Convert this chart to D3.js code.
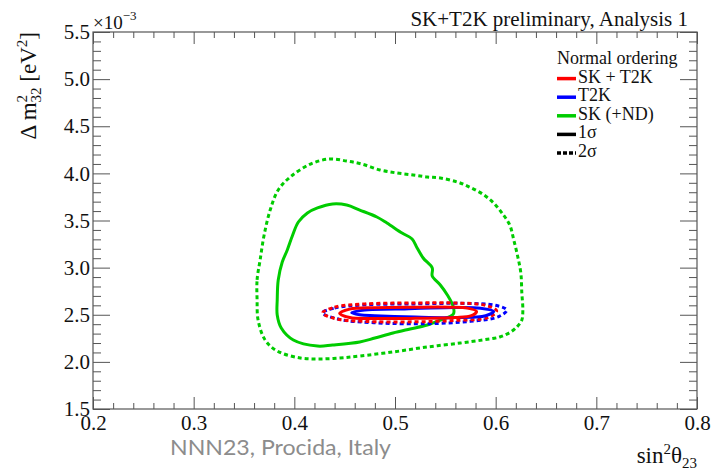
<!DOCTYPE html>
<html>
<head>
<meta charset="utf-8">
<script src="https://cdn.jsdelivr.net/npm/d3@7"></script>
<style>
  body { margin: 0; background: #fff; }
  svg { display: block; }
  .tick line { stroke: #555; }
</style>
</head>
<body>
<div id="chart"></div>
<script>
// tick values / labels
var xTicks = [0.2, 0.3, 0.4, 0.5, 0.6, 0.7, 0.8];
var xTickLabels = ["0.2", "0.3", "0.4", "0.5", "0.6", "0.7", "0.8"];
var yTicks = [1.5, 2.0, 2.5, 3.0, 3.5, 4.0, 4.5, 5.0, 5.5];
var yTickLabels = ["1.5", "2.0", "2.5", "3.0", "3.5", "4.0", "4.5", "5.0", "5.5"];

// contours, [sin^2 theta23, dm2_32 (x1e-3 eV^2)]
var skNd2sigma = [
  [0.363, 2.657], [0.363, 2.869], [0.366, 3.081], [0.370, 3.346], [0.376, 3.611],
  [0.384, 3.824], [0.396, 3.962], [0.416, 4.099], [0.435, 4.153], [0.452, 4.131],
  [0.467, 4.099], [0.485, 4.036], [0.502, 4.004], [0.518, 3.983], [0.532, 3.962],
  [0.545, 3.951], [0.562, 3.908], [0.574, 3.855], [0.587, 3.781], [0.598, 3.686],
  [0.607, 3.569], [0.614, 3.452], [0.618, 3.293], [0.622, 3.113], [0.625, 2.943],
  [0.626, 2.731], [0.627, 2.550], [0.626, 2.444], [0.622, 2.381], [0.615, 2.317],
  [0.604, 2.264], [0.587, 2.232], [0.565, 2.200], [0.532, 2.158], [0.498, 2.105],
  [0.465, 2.062], [0.445, 2.041], [0.425, 2.031], [0.406, 2.041], [0.383, 2.115],
  [0.371, 2.232], [0.364, 2.444]
];
var skNd1sigma = [
  [0.383, 2.657], [0.384, 2.869], [0.388, 3.060], [0.393, 3.187], [0.398, 3.336],
  [0.404, 3.484], [0.413, 3.580], [0.423, 3.633], [0.438, 3.675], [0.452, 3.664],
  [0.465, 3.611], [0.482, 3.537], [0.492, 3.473], [0.507, 3.367], [0.517, 3.304],
  [0.522, 3.208], [0.528, 3.102], [0.537, 2.996], [0.537, 2.911], [0.545, 2.816],
  [0.552, 2.710], [0.558, 2.582], [0.558, 2.508], [0.545, 2.444], [0.532, 2.391],
  [0.515, 2.349], [0.498, 2.306], [0.480, 2.253], [0.465, 2.211], [0.438, 2.179],
  [0.423, 2.168], [0.399, 2.232], [0.387, 2.359], [0.383, 2.497]
];
var t2k2sigma = [
  [0.428, 2.52], [0.44, 2.57], [0.47, 2.605], [0.52, 2.615], [0.57, 2.62],
  [0.60, 2.60], [0.611, 2.55], [0.603, 2.48], [0.575, 2.43], [0.53, 2.405],
  [0.48, 2.415], [0.445, 2.45]
];
var t2k1sigma = [
  [0.457, 2.52], [0.47, 2.55], [0.50, 2.56], [0.55, 2.575], [0.585, 2.57],
  [0.598, 2.535], [0.59, 2.49], [0.56, 2.47], [0.52, 2.475], [0.48, 2.49],
  [0.465, 2.50]
];
var skT2k2sigma = [
  [0.428, 2.52], [0.44, 2.58], [0.47, 2.615], [0.52, 2.625], [0.56, 2.625],
  [0.59, 2.60], [0.601, 2.54], [0.592, 2.47], [0.56, 2.44], [0.52, 2.425],
  [0.47, 2.43], [0.44, 2.46]
];
var skT2k1sigma = [
  [0.445, 2.515], [0.455, 2.56], [0.48, 2.575], [0.52, 2.58], [0.555, 2.58],
  [0.572, 2.57], [0.581, 2.535], [0.576, 2.49], [0.56, 2.47], [0.52, 2.462],
  [0.48, 2.46], [0.455, 2.47]
];

var legendLabels = ["SK + T2K", "T2K", "SK (+ND)", "1\u03c3", "2\u03c3"];

var width = 711, height = 474;
var margin = {top: 32, right: 14, bottom: 65, left: 93};
var serif = "'Liberation Serif', 'DejaVu Serif', serif";
var axisColor = "#555";

var svg = d3.select("#chart").append("svg")
    .attr("width", width)
    .attr("height", height)
    .style("font-family", serif);

svg.append("rect").attr("width", width).attr("height", height).attr("fill", "#fff");

var x = d3.scaleLinear().domain([0.2, 0.8]).range([margin.left, width - margin.right]);
var y = d3.scaleLinear().domain([1.5, 5.5]).range([height - margin.bottom, margin.top]);

var xMinor = d3.range(0, 31).map(function(i) { return 0.2 + i * 0.02; })
  .filter(function(v, i) { return i % 5 !== 0; });
var yMinor = d3.range(0, 41).map(function(i) { return 1.5 + i * 0.1; })
  .filter(function(v, i) { return i % 5 !== 0; });

function fmt(list, labels) {
  return function(d) { return labels[list.indexOf(d)]; };
}

function drawAxis(axis, tx, ty, labelled) {
  var g = svg.append("g")
    .attr("transform", "translate(" + tx + "," + ty + ")")
    .call(axis);
  g.select(".domain").remove();
  g.selectAll(".tick line").attr("stroke", axisColor);
  if (!labelled) g.selectAll(".tick text").remove();
  return g;
}

// bottom
var xb = drawAxis(d3.axisBottom(x).tickValues(xTicks).tickFormat(fmt(xTicks, xTickLabels))
  .tickSize(-12).tickPadding(6), 0, y(1.5), true);
drawAxis(d3.axisBottom(x).tickValues(xMinor).tickSize(-6), 0, y(1.5), false);
// top
drawAxis(d3.axisTop(x).tickValues(xTicks).tickSize(-12), 0, y(5.5), false);
drawAxis(d3.axisTop(x).tickValues(xMinor).tickSize(-6), 0, y(5.5), false);
// left
var yl = drawAxis(d3.axisLeft(y).tickValues(yTicks).tickFormat(fmt(yTicks, yTickLabels))
  .tickSize(-17).tickPadding(3), x(0.2), 0, true);
drawAxis(d3.axisLeft(y).tickValues(yMinor).tickSize(-8), x(0.2), 0, false);
// right
drawAxis(d3.axisRight(y).tickValues(yTicks).tickSize(-17), x(0.8), 0, false);
drawAxis(d3.axisRight(y).tickValues(yMinor).tickSize(-8), x(0.8), 0, false);

[xb, yl].forEach(function(g) {
  g.selectAll(".tick text")
    .attr("fill", "#111")
    .style("font-family", serif)
    .style("font-size", "21px");
});

// frame
svg.append("rect")
  .attr("x", x(0.2)).attr("y", y(5.5))
  .attr("width", x(0.8) - x(0.2)).attr("height", y(1.5) - y(5.5))
  .attr("fill", "none").attr("stroke", axisColor).attr("stroke-width", 1.2);

// contours
var line = d3.line()
  .curve(d3.curveCatmullRomClosed.alpha(0.5))
  .x(function(d) { return x(d[0]); })
  .y(function(d) { return y(d[1]); });

var contours = [
  {data: skNd2sigma, color: "#00cc00", dash: "4,3"},
  {data: skNd1sigma, color: "#00cc00", dash: null},
  {data: t2k2sigma, color: "#0000ff", dash: "4,3"},
  {data: skT2k2sigma, color: "#ff0000", dash: "4,3"},
  {data: t2k1sigma, color: "#0000ff", dash: null},
  {data: skT2k1sigma, color: "#ff0000", dash: null}
];

svg.append("g").selectAll("path").data(contours).enter()
  .append("path")
    .attr("d", function(d) { return line(d.data); })
    .attr("fill", "none")
    .attr("stroke", function(d) { return d.color; })
    .attr("stroke-width", 3)
    .attr("stroke-dasharray", function(d) { return d.dash; });

// exponent
var ex = svg.append("text").attr("x", x(0.2)).attr("y", 29)
  .style("font-size", "19px").attr("fill", "#111");
ex.append("tspan").text("\u00d710");
ex.append("tspan").attr("dy", -9).style("font-size", "13px").text("\u22123");

// title
svg.append("text")
  .attr("x", 688).attr("y", 26)
  .attr("text-anchor", "end")
  .style("font-size", "21px").attr("fill", "#111")
  .text("SK+T2K preliminary, Analysis 1");

// y title
var yt = svg.append("text")
  .attr("transform", "translate(36," + y(5.5) + ") rotate(-90)")
  .attr("text-anchor", "end")
  .style("font-size", "23px").attr("fill", "#111");
yt.append("tspan").text("\u0394 m");
yt.append("tspan").attr("dy", -9).style("font-size", "15px").text("2");
yt.append("tspan").attr("dx", -7.5).attr("dy", 14).style("font-size", "15px").text("32");
yt.append("tspan").attr("dy", -5).text(" [eV");
yt.append("tspan").attr("dy", -9).style("font-size", "15px").text("2");
yt.append("tspan").attr("dy", 9).text("]");

// x title
var xt = svg.append("text")
  .attr("x", x(0.8)).attr("y", 463)
  .attr("text-anchor", "end")
  .style("font-size", "23px").attr("fill", "#111");
xt.append("tspan").text("sin");
xt.append("tspan").attr("dy", -9).style("font-size", "15px").text("2");
xt.append("tspan").attr("dy", 9).text("\u03b8");
xt.append("tspan").attr("dy", 5).style("font-size", "15px").text("23");

// legend
var lg = svg.append("g").attr("transform", "translate(557,64)");
lg.append("text").style("font-size", "18px").attr("fill", "#111").text("Normal ordering");
var legendColors = ["#ff0000", "#0000ff", "#00cc00", "#000", "#000"];
var legendDash = [null, null, null, null, "4,2"];
legendLabels.forEach(function(lab, i) {
  var yy = 18.6 * (i + 1);
  lg.append("line")
    .attr("x1", 0).attr("x2", 19)
    .attr("y1", yy - 4).attr("y2", yy - 4)
    .attr("stroke", legendColors[i])
    .attr("stroke-width", 3.5)
    .attr("stroke-dasharray", legendDash[i]);
  lg.append("text")
    .attr("x", 21).attr("y", yy)
    .style("font-size", "18px").attr("fill", "#111")
    .text(lab);
});

// footer
svg.append("text")
  .attr("x", 170).attr("y", 455)
  .style("font-family", "Lato, 'Open Sans', sans-serif")
  .style("font-size", "21px")
  .attr("textLength", 221)
  .attr("lengthAdjust", "spacingAndGlyphs")
  .attr("fill", "#8c8c8c")
  .text("NNN23, Procida, Italy");
</script>
</body>
</html>
